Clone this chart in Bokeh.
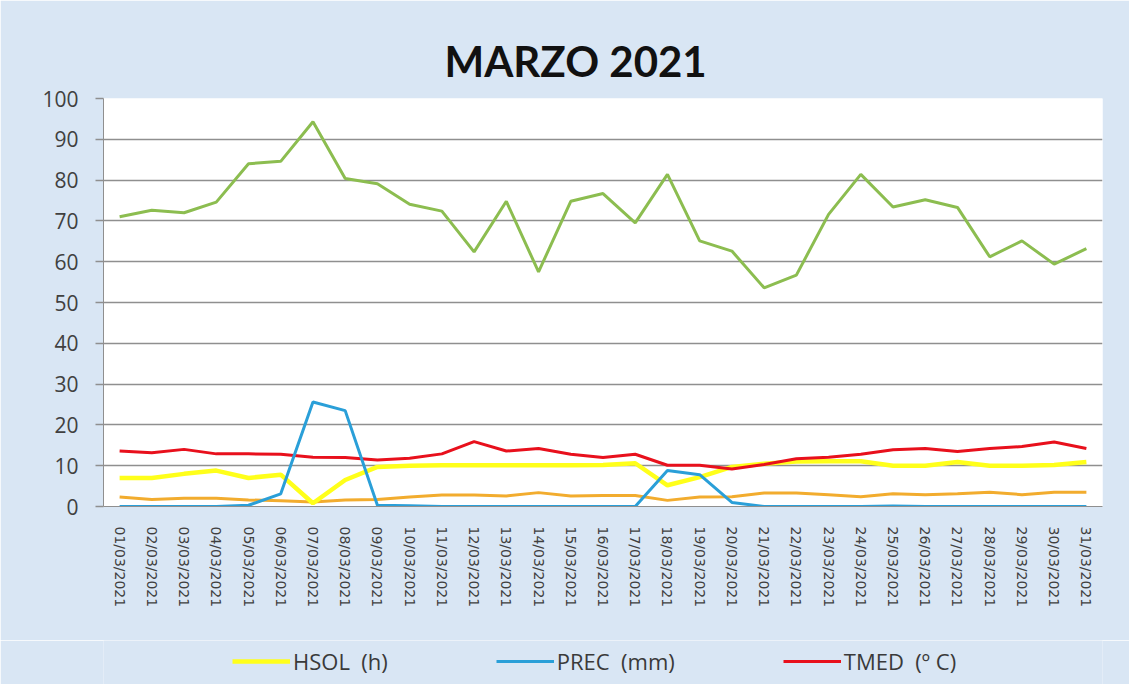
from bokeh.plotting import figure
from bokeh.layouts import column
from bokeh.models import Range1d, FixedTicker, Legend, LegendItem, FactorRange
from bokeh.embed import file_html
from bokeh.resources import INLINE

dates = ["%02d/03/2021" % d for d in range(1, 32)]

humedad = [71, 72.6, 72, 74.6, 84, 84.6, 94.3, 80.4, 79.1, 74.1, 72.4, 62.4, 74.8, 57.5, 74.8,
           76.7, 69.5, 81.4, 65.1, 62.6, 53.6, 56.7, 71.6, 81.4, 73.4, 75.2, 73.3, 61.2, 65.1, 59.4, 63.2]
hsol = [7.0, 7.0, 8.0, 8.8, 7.0, 7.8, 0.8, 6.5, 9.7, 10.0, 10.1, 10.1, 10.1, 10.1, 10.1,
        10.2, 10.6, 5.2, 7.2, 9.7, 10.5, 11.0, 11.1, 11.1, 10.0, 10.0, 10.9, 10.0, 10.0, 10.2, 10.9]
prec = [0, 0, 0, 0, 0.3, 3.1, 25.6, 23.5, 0.3, 0.2, 0, 0, 0, 0, 0,
        0, 0, 8.8, 7.8, 1.0, 0, 0, 0, 0, 0.1, 0, 0, 0, 0, 0, 0]
tmed = [13.6, 13.2, 14.0, 12.9, 12.9, 12.8, 12.1, 12.0, 11.4, 11.8, 12.9, 15.9, 13.6, 14.2, 12.8,
        12.0, 12.8, 10.1, 10.1, 9.2, 10.3, 11.7, 12.1, 12.8, 13.9, 14.2, 13.5, 14.2, 14.7, 15.8, 14.2]
viento = [2.3, 1.7, 2.0, 2.0, 1.6, 1.4, 1.1, 1.6, 1.7, 2.3, 2.8, 2.8, 2.6, 3.4, 2.6,
          2.7, 2.7, 1.5, 2.3, 2.4, 3.3, 3.3, 2.9, 2.4, 3.1, 2.9, 3.1, 3.5, 2.9, 3.5, 3.5]
y_ticks = [0, 10, 20, 30, 40, 50, 60, 70, 80, 90, 100]
legend_labels = ["HSOL  (h)", "PREC  (mm)", "TMED  (º C)"]

BG = "#d9e6f4"
GRID = "#8f8f8f"
C_HUM, C_VIE, C_HSOL, C_TMED, C_PREC = "#8cbd50", "#f2ac2e", "#ffff1a", "#e8101c", "#2a9fd8"

p = figure(width=1129, height=640, output_backend="svg", toolbar_location=None,
           x_range=FactorRange(factors=dates, range_padding=0), y_range=Range1d(0, 100),
           min_border_left=103, min_border_right=27, min_border_top=98, min_border_bottom=134)
p.background_fill_color = "white"
p.border_fill_color = BG
p.outline_line_color = None

p.title.text = "MARZO 2021"
p.title.text_font = "Lato"
p.title.text_font_style = "bold"
p.title.text_font_size = "42px"
p.title.text_color = "#111111"
p.title.align = "left"
p.title.offset = 341
p.title.standoff = 25

p.xgrid.grid_line_color = None
p.ygrid.grid_line_color = GRID
p.ygrid.grid_line_width = 1.5
p.ygrid.ticker = FixedTicker(ticks=y_ticks)

p.yaxis.ticker = FixedTicker(ticks=y_ticks)
p.yaxis.axis_line_color = GRID
p.yaxis.major_tick_line_color = GRID
p.yaxis.major_tick_line_width = 1.5
p.yaxis.major_tick_out = 8
p.yaxis.major_tick_in = 0
p.yaxis.minor_tick_line_color = None
p.yaxis.major_label_standoff = 17
p.yaxis.major_label_text_font = "Open Sans"
p.yaxis.major_label_text_font_size = "21px"
p.yaxis.major_label_text_color = "#404040"

p.xaxis.axis_line_color = GRID
p.xaxis.major_tick_line_color = None
p.xaxis.minor_tick_line_color = None
p.xaxis.major_label_orientation = "vertical"
p.xaxis.major_label_standoff = 14
p.xaxis.major_label_text_font = "DejaVu Sans"
p.xaxis.major_label_text_font_size = "14px"
p.xaxis.major_label_text_color = "#404040"

p.line(dates, humedad, line_color=C_HUM, line_width=3)
p.line(dates, viento, line_color=C_VIE, line_width=3)
p.line(dates, hsol, line_color=C_HSOL, line_width=4.5)
p.line(dates, tmed, line_color=C_TMED, line_width=3)
p.line(dates, prec, line_color=C_PREC, line_width=3)

# legend strip below the chart (its frame is aligned with the chart frame)
q = figure(width=1129, height=44, output_backend="svg", toolbar_location=None,
           x_range=Range1d(0, 1), y_range=Range1d(0, 1),
           x_axis_type=None, y_axis_type=None,
           min_border_left=0, min_border_right=0, min_border_top=0, min_border_bottom=0)
q.background_fill_color = BG
q.border_fill_color = BG
q.outline_line_color = None
q.xgrid.grid_line_color = None
q.ygrid.grid_line_color = None
d_hsol = q.line([5, 6], [5, 6], line_color=C_HSOL, line_width=4.5)
d_prec = q.line([5, 6], [5, 6], line_color=C_PREC, line_width=3)
d_tmed = q.line([5, 6], [5, 6], line_color=C_TMED, line_width=3)

legend = Legend(items=[LegendItem(label=legend_labels[0], renderers=[d_hsol]),
                       LegendItem(label=legend_labels[1], renderers=[d_prec]),
                       LegendItem(label=legend_labels[2], renderers=[d_tmed])],
                orientation="horizontal", location=(129, 8),
                padding=0, margin=0, spacing=108, glyph_width=58, label_standoff=3,
                border_line_color=None, background_fill_alpha=0,
                label_text_font="Open Sans", label_text_font_size="22px",
                label_text_color="#3a3a3a")
q.add_layout(legend, "center")

layout = column(p, q, spacing=0)
open("out.html", "w").write(file_html(layout, INLINE))
